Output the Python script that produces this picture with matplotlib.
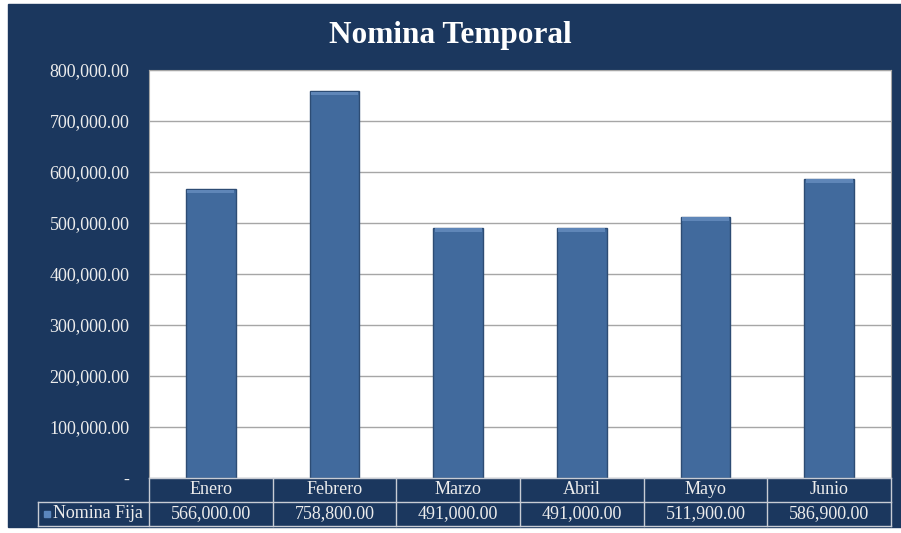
import matplotlib.pyplot as plt
from matplotlib.lines import Line2D
from matplotlib.patches import Rectangle
from matplotlib.ticker import FuncFormatter

meses = ['Enero', 'Febrero', 'Marzo', 'Abril', 'Mayo', 'Junio']
nomina_fija = [566000, 758800, 491000, 491000, 511900, 586900]
serie = 'Nomina Fija'
titulo = 'Nomina Temporal'

navy = '#1b375e'
txt = '#ececec'
plt.rcParams['font.family'] = ['Liberation Serif', 'DejaVu Serif']

W, H = 901, 533
fig = plt.figure(figsize=(W / 100, H / 100), dpi=100)
fig.patch.set_facecolor('white')


def fx(px):
    return px / W


def fy(py):
    return 1 - py / H


# navy background
fig.add_artist(Rectangle((fx(8), fy(527)), fx(901) - fx(8), fy(4) - fy(527),
                         transform=fig.transFigure, color=navy, zorder=0))

left, right, top, bottom = 149, 891, 70, 478
ax = fig.add_axes([fx(left), fy(bottom), fx(right) - fx(left), fy(top) - fy(bottom)])
ax.set_facecolor('white')

x = range(len(meses))
ax.bar(x, nomina_fija, width=0.4, color='#416a9d', edgecolor='#2d4c74', linewidth=1, zorder=3)
# bevel highlight on top of each bar
ax.bar(x, [7000] * len(meses), bottom=[v - 8000 for v in nomina_fija], width=0.38,
       color='#5f86b8', linewidth=0, zorder=4)

ax.set_xlim(-0.5, len(meses) - 0.5)
ax.set_ylim(0, 800000)
ax.set_yticks(range(0, 800001, 100000))
ax.yaxis.set_major_formatter(FuncFormatter(lambda v, p: '-' if v == 0 else f'{v:,.2f}'))
ax.tick_params(axis='y', colors=txt, labelsize=13, length=0, pad=14)
ax.set_xticks([])
ax.grid(axis='y', color='#a6a6a6', linewidth=1, zorder=0)
for s in ['top', 'right', 'left', 'bottom']:
    ax.spines[s].set_color('#a6a6a6')
ax.spines['bottom'].set_visible(False)

fig.text(0.5, fy(36), titulo, ha='center', va='center', color='white',
         fontsize=22.5, fontweight='bold')

# data table under the plot
line_c = '#c8ccd4'
cw = (right - left) / len(meses)
h_top, h_bot, d_bot = 478, 502, 526
lbl_left = 38


def hline(x0, x1, y):
    fig.add_artist(Line2D([fx(x0), fx(x1)], [fy(y), fy(y)], transform=fig.transFigure,
                          color=line_c, linewidth=1))


def vline(xp, y0, y1):
    fig.add_artist(Line2D([fx(xp), fx(xp)], [fy(y0), fy(y1)], transform=fig.transFigure,
                          color=line_c, linewidth=1))


hline(left, right, h_top)
hline(lbl_left, right, h_bot)
hline(lbl_left, right, d_bot)
vline(lbl_left, h_bot, d_bot)
for i in range(len(meses) + 1):
    vline(left + i * cw, h_top, d_bot)

for i, (m, v) in enumerate(zip(meses, nomina_fija)):
    cx = fx(left + (i + 0.5) * cw)
    fig.text(cx, fy((h_top + h_bot) / 2), m, ha='center', va='center', color=txt, fontsize=13)
    fig.text(cx, fy((h_bot + d_bot) / 2), f'{v:,.2f}', ha='center', va='center',
             color=txt, fontsize=13)

fig.add_artist(Rectangle((fx(44), fy(517)), fx(6), fy(511) - fy(517),
                         transform=fig.transFigure, color='#5b86bd'))
fig.text(fx(53), fy((h_bot + d_bot) / 2), serie, ha='left', va='center', color=txt, fontsize=13)

fig.savefig('out.png', dpi=100, facecolor=fig.get_facecolor())
